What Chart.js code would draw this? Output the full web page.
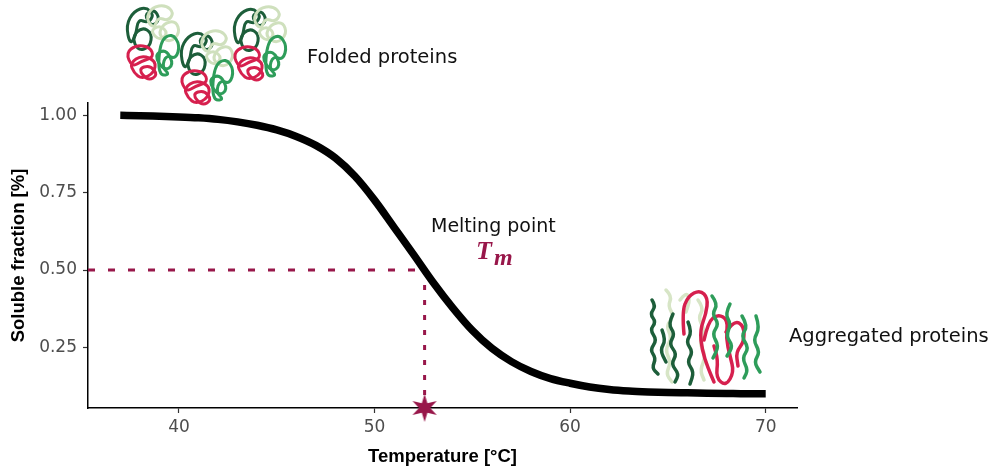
<!DOCTYPE html>
<html>
<head>
<meta charset="utf-8">
<script src="https://cdn.jsdelivr.net/npm/chart.js@4"></script>
<style>
  html, body { margin: 0; padding: 0; background: #fff; }
  #meltChart { display: block; }
</style>
</head>
<body>
<canvas id="meltChart" width="1000" height="471"></canvas>
<script>
// Data
const temperatures = [37, 38, 39, 40, 41, 42, 43, 44, 45, 46, 47, 48, 49, 50, 51, 52, 53,
                      54, 55, 56, 57, 58, 59, 60, 61, 62, 63, 64, 65, 66, 67, 68, 69, 70];
const solubleFraction = [1.000, 0.999, 0.997, 0.995, 0.992, 0.987, 0.979, 0.968, 0.953, 0.932, 0.903, 0.862, 0.803, 0.726, 0.638, 0.550, 0.460,
                         0.378, 0.305, 0.247, 0.204, 0.172, 0.149, 0.134, 0.122, 0.114, 0.109, 0.106, 0.104, 0.103, 0.102, 0.101, 0.100, 0.100];
const meltingPoint = 52.56;
const halfFraction = 0.5;
const xTicks = [40, 50, 60, 70];
const yTicks = [0.25, 0.50, 0.75, 1.00];
const xRange = [35.35, 71.6];
const yRange = [0.054, 1.04];

const accent = '#98174a';

// Star marker for Tm
function makeStar(r, color) {
    const c = document.createElement('canvas');
    c.width = c.height = r * 2 + 2;
    const g = c.getContext('2d');
    g.translate(r + 1, r + 1);
    g.beginPath();
    for (let i = 0; i < 12; i++) {
        const rad = i % 2 === 0 ? r : r * 0.4;
        const a = -Math.PI / 2 + i * Math.PI / 6;
        g.lineTo(Math.cos(a) * rad, Math.sin(a) * rad);
    }
    g.closePath();
    g.fillStyle = color;
    g.fill();
    return c;
}

// Decorative protein sketches
const folded = [
    { color: '#1d5e3a', loops: [[[6,40],[2,20],[10,6],[22,2],[30,10],[24,18],[14,14],[12,30]],
                                [[14,46],[8,32],[18,22],[28,28],[26,42]],
                                [[20,10],[30,4],[36,14],[28,22]]] },
    { color: '#cfe0bd', loops: [[[22,14],[28,2],[42,0],[50,8],[44,16],[34,12],[30,24]],
                                [[34,30],[40,18],[52,16],[56,28],[46,38]],
                                [[26,26],[36,20],[44,28],[36,36]]] },
    { color: '#2e9d5a', loops: [[[36,36],[48,28],[56,40],[52,54],[42,50],[38,62],[46,70],[34,70]],
                                [[30,50],[42,44],[50,60],[40,66]]] },
    { color: '#d6204e', loops: [[[2,48],[12,40],[26,42],[30,52],[18,56],[8,62]],
                                [[6,58],[18,50],[32,56],[30,68],[18,74],[10,68]],
                                [[14,64],[26,60],[34,70],[24,76]]] }
];
const foldedAt = [[124, 5], [178, 30], [231, 6]];

const aggregated = [
    { color: '#d7e5c6', strands: [[[666,290],[672,296],[668,306],[674,316],[666,326],[672,338],[665,350],[671,362],[666,374],[672,382]],
                                  [[698,300],[704,308],[698,318],[705,330],[699,342],[706,356],[700,370],[704,380]],
                                  [[680,300],[686,292],[690,300],[686,312]]] },
    { color: '#1d5e3a', strands: [[[652,300],[656,306],[650,314],[656,322],[650,330],[657,340],[650,350],[656,358],[652,368],[658,374]],
                                  [[673,314],[668,324],[675,334],[669,344],[677,354],[671,364],[679,374],[675,382]],
                                  [[688,322],[692,332],[686,342],[693,352],[687,362],[694,372],[690,384]],
                                  [[662,330],[666,340],[660,350],[666,362]]] },
    { color: '#d6204e', strands: [[[684,334],[682,312],[688,296],[700,290],[708,298],[706,314],[700,330],[702,350],[708,368],[714,382]],
                                  [[704,340],[708,322],[718,314],[728,320],[726,338],[730,356],[734,372],[726,386],[716,378],[718,360],[714,346]],
                                  [[726,332],[734,320],[744,326],[744,342],[736,352],[738,366]]] },
    { color: '#2e9d5a', strands: [[[712,296],[718,304],[712,314],[719,324],[712,334],[719,346],[713,358]],
                                  [[730,304],[725,314],[731,324],[726,336],[733,346],[727,356]],
                                  [[742,316],[748,326],[741,336],[749,348],[742,358],[748,370],[744,378]],
                                  [[756,316],[760,328],[753,340],[760,352],[754,362],[760,372]]] }
];

function smoothPath(ctx, pts, closed) {
    ctx.beginPath();
    if (closed) {
        const n = pts.length;
        const mid = (a, b) => [(a[0] + b[0]) / 2, (a[1] + b[1]) / 2];
        const start = mid(pts[n - 1], pts[0]);
        ctx.moveTo(start[0], start[1]);
        for (let i = 0; i < n; i++) {
            const m = mid(pts[i], pts[(i + 1) % n]);
            ctx.quadraticCurveTo(pts[i][0], pts[i][1], m[0], m[1]);
        }
        ctx.closePath();
    } else {
        ctx.moveTo(pts[0][0], pts[0][1]);
        for (let i = 1; i < pts.length - 1; i++) {
            const mx = (pts[i][0] + pts[i + 1][0]) / 2;
            const my = (pts[i][1] + pts[i + 1][1]) / 2;
            ctx.quadraticCurveTo(pts[i][0], pts[i][1], mx, my);
        }
        const last = pts[pts.length - 1];
        ctx.lineTo(last[0], last[1]);
    }
    ctx.stroke();
}

const decorPlugin = {
    id: 'decor',
    afterDraw(chart) {
        const ctx = chart.ctx;
        ctx.save();
        ctx.lineJoin = 'round';
        ctx.lineCap = 'round';
        ctx.lineWidth = 3;
        foldedAt.forEach(([ox, oy]) => {
            folded.forEach(part => {
                ctx.strokeStyle = part.color;
                part.loops.forEach(loop => smoothPath(ctx, loop.map(p => [p[0] + ox, p[1] + oy]), true));
            });
        });
        ctx.lineWidth = 3.5;
        aggregated.forEach(part => {
            ctx.strokeStyle = part.color;
            part.strands.forEach(s => smoothPath(ctx, s, false));
        });

        ctx.fillStyle = '#111';
        ctx.textBaseline = 'alphabetic';
        ctx.textAlign = 'left';
        ctx.font = '19.5px "DejaVu Sans"';
        ctx.fillText('Folded proteins', 307, 63);
        ctx.fillText('Aggregated proteins', 789, 342);
        ctx.font = '19px "DejaVu Sans"';
        ctx.fillText('Melting point', 431, 232);

        ctx.fillStyle = accent;
        ctx.font = 'italic bold 26px "Liberation Serif"';
        ctx.fillText('T', 476, 259);
        ctx.font = 'italic bold 24px "Liberation Serif"';
        ctx.fillText('m', 494, 265);
        ctx.restore();
    }
};

const ctx = document.getElementById('meltChart').getContext('2d');
new Chart(ctx, {
    type: 'line',
    data: {
        datasets: [
            {
                label: 'Soluble fraction',
                data: temperatures.map((t, i) => ({ x: t, y: solubleFraction[i] })),
                borderColor: '#000',
                borderWidth: 7.5,
                borderCapStyle: 'butt',
                pointRadius: 0,
                cubicInterpolationMode: 'monotone',
                fill: false,
                order: 1
            },
            {
                label: 'Half line',
                data: [{ x: xRange[0], y: halfFraction }, { x: meltingPoint, y: halfFraction }],
                borderColor: accent,
                borderWidth: 3,
                borderDash: [7, 13],
                pointRadius: 0,
                order: 2
            },
            {
                label: 'Tm drop',
                data: [{ x: meltingPoint, y: halfFraction }, { x: meltingPoint, y: yRange[0] }],
                borderColor: accent,
                borderWidth: 3,
                borderDash: [5, 10],
                pointRadius: 0,
                order: 2
            },
            {
                label: 'Tm',
                data: [{ x: meltingPoint, y: yRange[0] }],
                showLine: false,
                pointStyle: makeStar(14, accent),
                pointRadius: 14,
                clip: false,
                order: 0
            }
        ]
    },
    options: {
        responsive: false,
        animation: false,
        layout: { padding: { top: 103, right: 203, left: 0, bottom: 0 } },
        plugins: {
            legend: { display: false },
            tooltip: { enabled: false }
        },
        scales: {
            x: {
                type: 'linear',
                min: xRange[0],
                max: xRange[1],
                afterBuildTicks: scale => { scale.ticks = xTicks.map(v => ({ value: v })); },
                afterFit: scale => { scale.height = 63; },
                grid: { drawOnChartArea: false, drawTicks: true, tickLength: 5, tickColor: '#333', tickWidth: 1.2 },
                border: { display: true, color: '#000', width: 1.5 },
                ticks: {
                    color: '#4d4d4d',
                    font: { family: 'DejaVu Sans', size: 17 },
                    padding: 4,
                    maxRotation: 0
                },
                title: {
                    display: true,
                    text: 'Temperature [°C]',
                    color: '#000',
                    font: { family: 'Liberation Sans', size: 18.5, weight: 'bold' },
                    padding: { top: 0, bottom: 3 }
                }
            },
            y: {
                type: 'linear',
                min: yRange[0],
                max: yRange[1],
                afterBuildTicks: scale => { scale.ticks = yTicks.map(v => ({ value: v })); },
                afterFit: scale => { scale.width = 88; },
                grid: { drawOnChartArea: false, drawTicks: true, tickLength: 5, tickColor: '#333', tickWidth: 1.2 },
                border: { display: true, color: '#000', width: 1.5 },
                ticks: {
                    color: '#4d4d4d',
                    font: { family: 'DejaVu Sans', size: 17 },
                    padding: 6,
                    callback: v => v.toFixed(2)
                },
                title: {
                    display: true,
                    text: 'Soluble fraction [%]',
                    color: '#000',
                    font: { family: 'Liberation Sans', size: 18.5, weight: 'bold' },
                    padding: { top: 8, bottom: 0 }
                }
            }
        }
    },
    plugins: [decorPlugin]
});
</script>
</body>
</html>
